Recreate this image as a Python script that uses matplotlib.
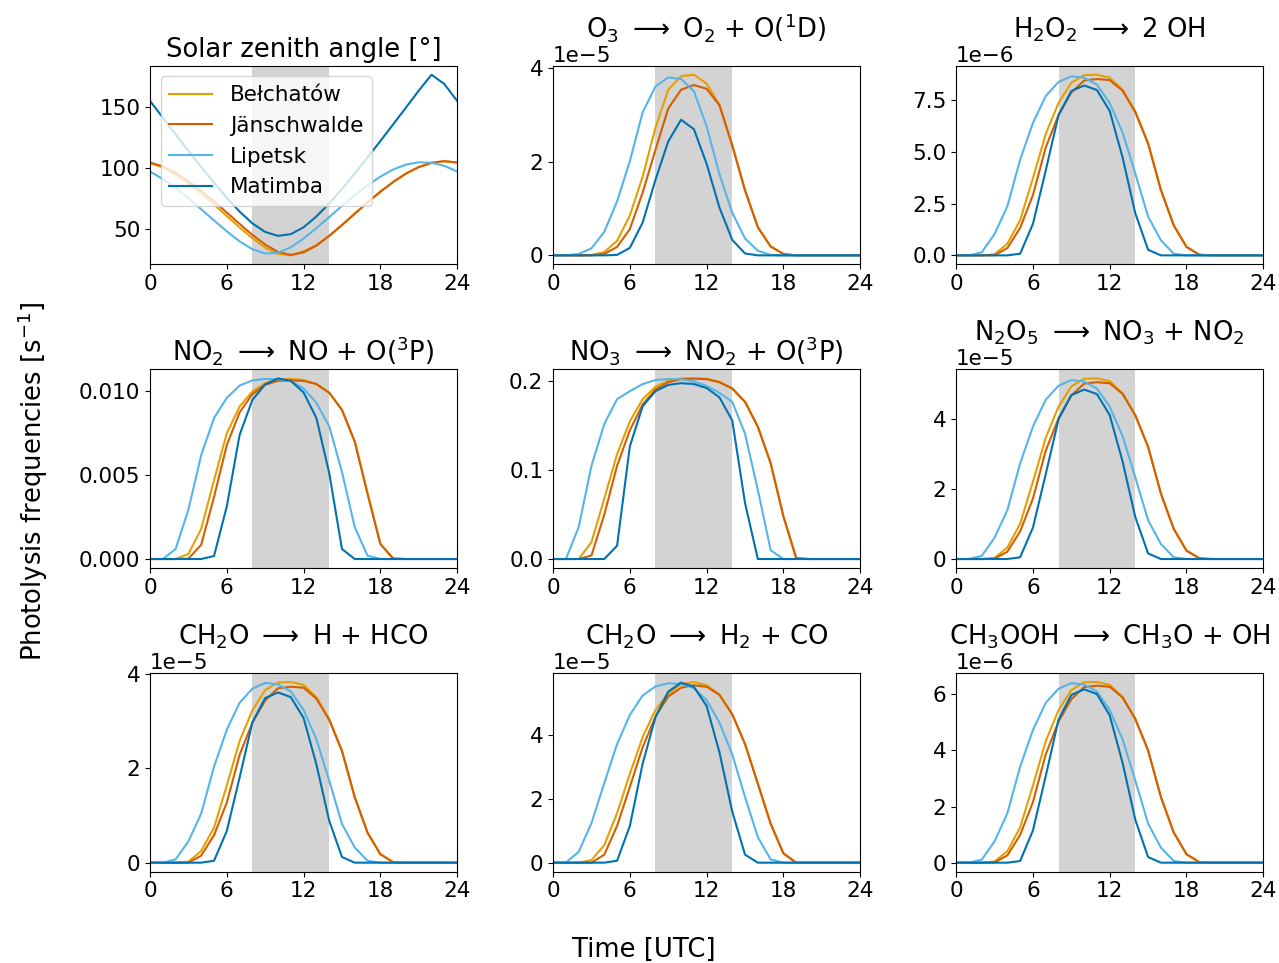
import numpy as np
import matplotlib.pyplot as plt
plt.switch_backend('agg')

plt.rcParams['font.size'] = 15.5

hours = np.arange(25)  # 0 .. 24 UTC
sites = ['Bełchatów', 'Jänschwalde', 'Lipetsk', 'Matimba']
colors = ['#E69F00', '#D55E00', '#56B4E9', '#0072B2']

# every panel: one list per site, in the order of `sites`
sza = [
    [104.4, 100.5, 94.7, 87.5, 79.3, 70.3, 61.0, 51.7, 42.9, 35.2, 30.1, 28.9, 32.3, 36.9, 44.8, 53.6, 62.9, 72.0, 80.8, 88.7, 95.6, 100.9, 104.4, 105.7, 104.6],
    [104.6, 101.4, 96.2, 89.5, 81.6, 72.9, 63.8, 54.6, 45.6, 37.7, 31.7, 29.3, 31.3, 36.9, 44.8, 53.6, 62.9, 72.0, 80.8, 88.7, 95.6, 100.9, 104.4, 105.7, 104.6],
    [97.3, 91.1, 83.7, 75.4, 66.5, 57.4, 48.5, 40.3, 33.9, 30.4, 31.0, 35.5, 42.6, 51.1, 60.1, 69.2, 77.9, 86.0, 93.1, 98.9, 102.9, 104.8, 104.4, 101.9, 97.3],
    [154.9, 141.2, 127.6, 114.1, 100.9, 88.1, 75.9, 64.6, 55.0, 48.0, 44.8, 46.2, 51.8, 60.6, 71.2, 83.1, 95.7, 108.8, 122.1, 135.7, 149.4, 163.2, 176.2, 168.6, 154.9],
]

# O3 -> O2 + O(1D), 1e-5 s-1
j_o1d = [
    [0, 0, 0, 0.01, 0.07, 0.31, 0.85, 1.68, 2.72, 3.53, 3.82, 3.85, 3.66, 3.21, 2.35, 1.40, 0.60, 0.19, 0.03, 0, 0, 0, 0, 0, 0],
    [0, 0, 0, 0, 0.03, 0.18, 0.56, 1.34, 2.25, 3.13, 3.53, 3.63, 3.55, 3.20, 2.34, 1.38, 0.60, 0.19, 0.03, 0, 0, 0, 0, 0, 0],
    [0, 0, 0.03, 0.15, 0.50, 1.15, 2.01, 3.05, 3.60, 3.79, 3.76, 3.50, 2.75, 1.73, 0.91, 0.36, 0.10, 0.01, 0, 0, 0, 0, 0, 0, 0],
    [0, 0, 0, 0, 0, 0.01, 0.16, 0.70, 1.61, 2.43, 2.89, 2.69, 1.95, 1.02, 0.33, 0.04, 0, 0, 0, 0, 0, 0, 0, 0, 0],
]

# H2O2 -> 2 OH, 1e-6 s-1
j_h2o2 = [
    [0, 0, 0, 0.05, 0.56, 1.70, 3.73, 5.86, 7.36, 8.33, 8.70, 8.72, 8.58, 8.00, 6.95, 5.42, 3.17, 1.46, 0.41, 0.03, 0, 0, 0, 0, 0],
    [0, 0, 0, 0.01, 0.35, 1.33, 2.91, 5.21, 6.78, 7.86, 8.44, 8.51, 8.46, 7.95, 6.91, 5.39, 3.15, 1.45, 0.41, 0.03, 0, 0, 0, 0, 0],
    [0, 0, 0.15, 1.03, 2.37, 4.62, 6.39, 7.69, 8.37, 8.64, 8.57, 8.24, 7.35, 5.94, 3.95, 1.87, 0.73, 0.08, 0, 0, 0, 0, 0, 0, 0],
    [0, 0, 0, 0, 0, 0.08, 1.52, 4.10, 6.77, 7.93, 8.20, 7.98, 6.97, 4.74, 2.03, 0.27, 0, 0, 0, 0, 0, 0, 0, 0, 0],
]

# NO2 -> NO + O(3P), 1e-3 s-1
j_no2 = [
    [0, 0, 0, 0.30, 1.80, 4.70, 7.50, 9.10, 10.00, 10.50, 10.70, 10.75, 10.68, 10.45, 9.93, 8.90, 7.00, 3.90, 0.90, 0.03, 0, 0, 0, 0, 0],
    [0, 0, 0, 0.02, 0.85, 3.70, 6.80, 8.75, 9.84, 10.40, 10.63, 10.65, 10.63, 10.44, 9.92, 8.90, 7.00, 3.90, 0.90, 0.03, 0, 0, 0, 0, 0],
    [0, 0, 0.60, 2.95, 6.20, 8.41, 9.62, 10.35, 10.66, 10.75, 10.73, 10.62, 10.18, 9.32, 7.93, 5.20, 1.90, 0.20, 0, 0, 0, 0, 0, 0, 0],
    [0, 0, 0, 0, 0, 0.18, 3.14, 7.40, 9.50, 10.42, 10.78, 10.63, 9.94, 8.42, 5.14, 0.60, 0, 0, 0, 0, 0, 0, 0, 0, 0],
]

# NO3 -> NO2 + O(3P), s-1
j_no3 = [
    [0, 0, 0, 0.019, 0.068, 0.118, 0.155, 0.180, 0.194, 0.2005, 0.2033, 0.2034, 0.2030, 0.1995, 0.192, 0.177, 0.149, 0.108, 0.048, 0.001, 0, 0, 0, 0, 0],
    [0, 0, 0, 0.004, 0.050, 0.105, 0.145, 0.174, 0.191, 0.199, 0.2025, 0.2030, 0.2025, 0.199, 0.192, 0.177, 0.149, 0.108, 0.048, 0.001, 0, 0, 0, 0, 0],
    [0, 0, 0.036, 0.105, 0.152, 0.180, 0.189, 0.197, 0.2015, 0.2026, 0.2024, 0.200, 0.195, 0.187, 0.177, 0.141, 0.078, 0.010, 0, 0, 0, 0, 0, 0, 0],
    [0, 0, 0, 0, 0, 0.015, 0.127, 0.172, 0.189, 0.196, 0.198, 0.197, 0.1925, 0.182, 0.156, 0.063, 0, 0, 0, 0, 0, 0, 0, 0, 0],
]

# N2O5 -> NO3 + NO2, 1e-5 s-1
j_n2o5 = [
    [0, 0, 0, 0.03, 0.33, 1.01, 2.21, 3.47, 4.36, 4.94, 5.16, 5.17, 5.09, 4.74, 4.12, 3.21, 1.88, 0.87, 0.24, 0.02, 0, 0, 0, 0, 0],
    [0, 0, 0, 0.01, 0.21, 0.79, 1.73, 3.10, 4.03, 4.68, 5.02, 5.06, 5.03, 4.73, 4.11, 3.21, 1.87, 0.86, 0.24, 0.02, 0, 0, 0, 0, 0],
    [0, 0, 0.09, 0.61, 1.40, 2.74, 3.79, 4.56, 4.96, 5.12, 5.08, 4.88, 4.36, 3.52, 2.34, 1.11, 0.43, 0.05, 0, 0, 0, 0, 0, 0, 0],
    [0, 0, 0, 0, 0, 0.05, 0.90, 2.43, 4.00, 4.69, 4.85, 4.72, 4.12, 2.80, 1.20, 0.16, 0, 0, 0, 0, 0, 0, 0, 0, 0],
]

# CH2O -> H + HCO, 1e-5 s-1
j_ch2o_r = [
    [0, 0, 0, 0.02, 0.25, 0.74, 1.63, 2.57, 3.22, 3.65, 3.81, 3.82, 3.76, 3.50, 3.04, 2.37, 1.39, 0.64, 0.18, 0.01, 0, 0, 0, 0, 0],
    [0, 0, 0, 0, 0.15, 0.58, 1.27, 2.28, 2.96, 3.43, 3.69, 3.72, 3.70, 3.47, 3.02, 2.36, 1.38, 0.63, 0.18, 0.01, 0, 0, 0, 0, 0],
    [0, 0, 0.07, 0.45, 1.04, 2.03, 2.81, 3.38, 3.68, 3.80, 3.77, 3.62, 3.23, 2.61, 1.74, 0.82, 0.32, 0.04, 0, 0, 0, 0, 0, 0, 0],
    [0, 0, 0, 0, 0, 0.04, 0.67, 1.80, 2.97, 3.48, 3.60, 3.50, 3.06, 2.08, 0.89, 0.12, 0, 0, 0, 0, 0, 0, 0, 0, 0],
]

# CH2O -> H2 + CO, 1e-5 s-1
j_ch2o_m = [
    [0, 0, 0, 0.08, 0.55, 1.55, 2.78, 3.93, 4.78, 5.29, 5.58, 5.65, 5.55, 5.25, 4.64, 3.71, 2.47, 1.22, 0.29, 0, 0, 0, 0, 0, 0],
    [0, 0, 0, 0, 0.25, 1.15, 2.37, 3.61, 4.57, 5.20, 5.47, 5.55, 5.50, 5.25, 4.64, 3.71, 2.47, 1.22, 0.29, 0, 0, 0, 0, 0, 0],
    [0, 0, 0.34, 1.24, 2.49, 3.71, 4.62, 5.23, 5.51, 5.61, 5.59, 5.46, 5.08, 4.38, 3.39, 2.05, 0.80, 0.10, 0, 0, 0, 0, 0, 0, 0],
    [0, 0, 0, 0, 0, 0.06, 1.15, 3.10, 4.55, 5.35, 5.63, 5.50, 4.90, 3.45, 1.60, 0.25, 0, 0, 0, 0, 0, 0, 0, 0, 0],
]

# CH3OOH -> CH3O + OH, 1e-6 s-1
j_ch3ooh = [
    [0, 0, 0, 0.04, 0.41, 1.26, 2.75, 4.33, 5.44, 6.15, 6.43, 6.44, 6.34, 5.91, 5.13, 4.00, 2.34, 1.08, 0.30, 0.02, 0, 0, 0, 0, 0],
    [0, 0, 0, 0.01, 0.26, 0.99, 2.16, 3.86, 5.03, 5.83, 6.26, 6.31, 6.27, 5.89, 5.12, 4.00, 2.34, 1.08, 0.30, 0.02, 0, 0, 0, 0, 0],
    [0, 0, 0.11, 0.76, 1.76, 3.42, 4.73, 5.70, 6.20, 6.40, 6.35, 6.10, 5.44, 4.40, 2.93, 1.39, 0.54, 0.06, 0, 0, 0, 0, 0, 0, 0],
    [0, 0, 0, 0, 0, 0.06, 1.15, 3.09, 5.10, 5.98, 6.18, 6.01, 5.25, 3.57, 1.53, 0.20, 0, 0, 0, 0, 0, 0, 0, 0, 0],
]

panels = [
    ('Solar zenith angle [°]', sza, 1.0),
    (r'O$_3$ $\longrightarrow$ O$_2$ + O($^1$D)', j_o1d, 1e-5),
    (r'H$_2$O$_2$ $\longrightarrow$ 2 OH', j_h2o2, 1e-6),
    (r'NO$_2$ $\longrightarrow$ NO + O($^3$P)', j_no2, 1e-3),
    (r'NO$_3$ $\longrightarrow$ NO$_2$ + O($^3$P)', j_no3, 1.0),
    (r'N$_2$O$_5$ $\longrightarrow$ NO$_3$ + NO$_2$', j_n2o5, 1e-5),
    (r'CH$_2$O $\longrightarrow$ H + HCO', j_ch2o_r, 1e-5),
    (r'CH$_2$O $\longrightarrow$ H$_2$ + CO', j_ch2o_m, 1e-5),
    (r'CH$_3$OOH $\longrightarrow$ CH$_3$O + OH', j_ch3ooh, 1e-6),
]

fig, axes = plt.subplots(3, 3, figsize=(12.79, 9.63))
fig.subplots_adjust(left=0.1173, right=0.9877, bottom=0.0948, top=0.9318,
                    wspace=0.3125, hspace=0.528)

for ax, (title, data, scale) in zip(axes.flat, panels):
    ax.axvspan(8, 14, color='lightgray', lw=0)  # overpass window
    for series, site, col in zip(data, sites, colors):
        ax.plot(hours, np.array(series) * scale, color=col, label=site)
    ax.set_title(title)
    ax.set_xlim(0, 24)
    ax.set_xticks([0, 6, 12, 18, 24])

axes[0, 0].legend(loc='upper left')
fig.supylabel('Photolysis frequencies [s$^{-1}$]', x=0.012)
fig.supxlabel('Time [UTC]', x=0.503, y=0.0)

fig.savefig('out.png', dpi=100)
